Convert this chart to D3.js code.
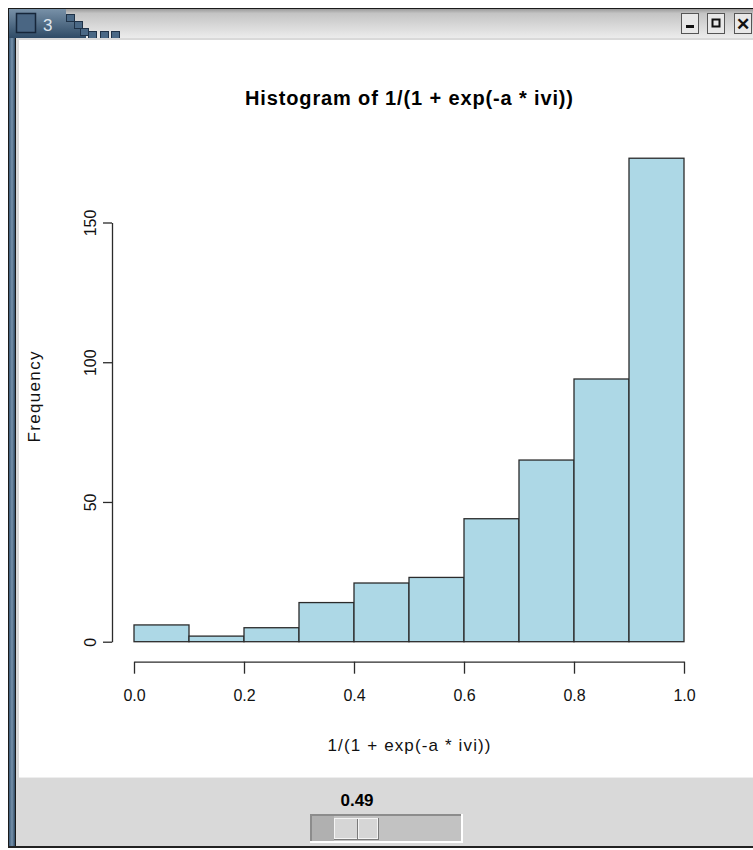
<!DOCTYPE html>
<html>
<head>
<meta charset="utf-8">
<script src="https://cdn.jsdelivr.net/npm/d3@7"></script>
<style>
  html, body { margin: 0; padding: 0; background: #ffffff; }
  svg { display: block; }
  text { font-family: "Liberation Sans", Arial, Helvetica, sans-serif; }
</style>
</head>
<body>
<div id="chart"></div>
<script>
// ---- data ----
const binStarts = [0.0, 0.1, 0.2, 0.3, 0.4, 0.5, 0.6, 0.7, 0.8, 0.9];
const binEnds   = [0.1, 0.2, 0.3, 0.4, 0.5, 0.6, 0.7, 0.8, 0.9, 1.0];
const counts    = [6, 2, 5, 14, 21, 23, 44, 65, 94, 173];
const xTicks    = [0.0, 0.2, 0.4, 0.6, 0.8, 1.0];
const xTickLabels = ["0.0", "0.2", "0.4", "0.6", "0.8", "1.0"];
const yTicks    = [0, 50, 100, 150];
const titleText = "Histogram of 1/(1 + exp(-a * ivi))";
const xLabelText = "1/(1 + exp(-a * ivi))";
const yLabelText = "Frequency";
const sliderValue = "0.49";

const W = 753, H = 850;
const svg = d3.select("#chart").append("svg").attr("width", W).attr("height", H);

// ---- window chrome ----
const defs = svg.append("defs");
const tg = defs.append("linearGradient").attr("id", "titlebar").attr("x1", 0).attr("y1", 0).attr("x2", 0).attr("y2", 1);
tg.append("stop").attr("offset", "0%").attr("stop-color", "#9a9a9a");
tg.append("stop").attr("offset", "15%").attr("stop-color", "#c4c4c4");
tg.append("stop").attr("offset", "100%").attr("stop-color", "#ececec");
const bg = defs.append("linearGradient").attr("id", "bluetab").attr("x1", 0).attr("y1", 0).attr("x2", 0).attr("y2", 1);
bg.append("stop").attr("offset", "0%").attr("stop-color", "#7891a8");
bg.append("stop").attr("offset", "100%").attr("stop-color", "#2f4b66");
const lb = defs.append("linearGradient").attr("id", "leftborder").attr("x1", 0).attr("y1", 0).attr("x2", 1).attr("y2", 0);
lb.append("stop").attr("offset", "0%").attr("stop-color", "#3b5976");
lb.append("stop").attr("offset", "50%").attr("stop-color", "#7792ab");
lb.append("stop").attr("offset", "100%").attr("stop-color", "#2e4963");

// outer frame
svg.append("rect").attr("x", 8).attr("y", 8).attr("width", W - 8).attr("height", 840).attr("fill", "#1a1a1a");
// title bar
svg.append("rect").attr("x", 9).attr("y", 9).attr("width", W - 9).attr("height", 29).attr("fill", "url(#titlebar)");
// blue tab with stepped edge
svg.append("path")
  .attr("d", "M9,9 H66 V14 H72 V21 H78 V28 H86 V38 H9 Z")
  .attr("fill", "url(#bluetab)");
[[66,14],[74,21],[80,28],[88,31],[100,31],[111,31]].forEach(([x,y]) => {
  svg.append("rect").attr("x", x + 0.5).attr("y", y + 0.5).attr("width", 8).attr("height", 7)
    .attr("fill", "#4a6885").attr("stroke", "#1f3247").attr("stroke-width", 1);
});
// icon square and window number
svg.append("rect").attr("x", 16.5).attr("y", 13.5).attr("width", 19).attr("height", 19)
  .attr("fill", "#4a6683").attr("stroke", "#16263a").attr("stroke-width", 1.5);
svg.append("text").attr("x", 43).attr("y", 31).attr("font-size", 17).attr("fill", "#dfe6ee").text("3");
// buttons
const btns = [{x: 681, sym: "min"}, {x: 707, sym: "max"}, {x: 734, sym: "close"}];
btns.forEach(b => {
  svg.append("rect").attr("x", b.x + 0.5).attr("y", 13.5).attr("width", 17).attr("height", 20)
    .attr("fill", "#e8e8e8").attr("stroke", "#555").attr("stroke-width", 1);
  if (b.sym === "min") svg.append("rect").attr("x", b.x + 5).attr("y", 25).attr("width", 8).attr("height", 3).attr("fill", "#111");
  if (b.sym === "max") svg.append("rect").attr("x", b.x + 5.5).attr("y", 19.5).attr("width", 7).attr("height", 7).attr("fill", "none").attr("stroke", "#111").attr("stroke-width", 2);
  if (b.sym === "close") svg.append("text").attr("x", b.x + 9).attr("y", 30).attr("text-anchor", "middle").attr("font-size", 17).attr("font-weight", "bold").attr("fill", "#111").text("✕");
});
// left blue border
svg.append("rect").attr("x", 9).attr("y", 38).attr("width", 6).attr("height", 808).attr("fill", "url(#leftborder)");
// content background
svg.append("rect").attr("x", 16).attr("y", 38).attr("width", W - 16).attr("height", 808).attr("fill", "#d9d9d9");
// plot (white) area
svg.append("rect").attr("x", 19).attr("y", 40).attr("width", W - 19).attr("height", 737).attr("fill", "#ffffff");
svg.append("line").attr("x1", 19).attr("x2", W).attr("y1", 777.5).attr("y2", 777.5).attr("stroke", "#eeeeee");

// ---- chart ----
const x = d3.scaleLinear().domain([0, 1]).range([134, 684]);
const y = d3.scaleLinear().domain([0, 150]).range([641.7, 222.5]);

svg.append("g").selectAll("rect").data(counts).join("rect")
  .attr("x", (d, i) => x(binStarts[i]))
  .attr("y", d => y(d))
  .attr("width", (d, i) => x(binEnds[i]) - x(binStarts[i]))
  .attr("height", d => y(0) - y(d))
  .attr("fill", "#add8e6")
  .attr("stroke", "#2b2b2b")
  .attr("stroke-width", 1.3);

// x axis
const xAxis = d3.axisBottom(x).tickValues(xTicks).tickSize(12).tickSizeOuter(0).tickPadding(16)
  .tickFormat((d, i) => xTickLabels[i]);
const gx = svg.append("g").attr("transform", "translate(0,661.7)").call(xAxis);
gx.select(".domain").attr("stroke", "#2b2b2b").attr("stroke-width", 1.3);
gx.selectAll(".tick line").attr("stroke", "#2b2b2b").attr("stroke-width", 1.3);
gx.selectAll(".tick text").attr("font-size", 16).attr("fill", "#111").attr("font-family", "Liberation Sans, Arial, sans-serif");

// y axis
const yAxis = d3.axisLeft(y).tickValues(yTicks).tickSize(9).tickSizeOuter(0).tickFormat(d3.format("d"));
const gy = svg.append("g").attr("transform", "translate(112,0)").call(yAxis);
gy.select(".domain").attr("stroke", "#2b2b2b").attr("stroke-width", 1.3);
gy.selectAll(".tick line").attr("stroke", "#2b2b2b").attr("stroke-width", 1.3);
gy.selectAll(".tick text")
  .attr("x", null).attr("dy", null)
  .attr("text-anchor", "middle")
  .attr("transform", "translate(-16,0) rotate(-90)")
  .attr("font-size", 16).attr("fill", "#111").attr("font-family", "Liberation Sans, Arial, sans-serif");

// title
svg.append("text").attr("x", 409).attr("y", 105).attr("text-anchor", "middle")
  .attr("font-size", 20).attr("font-weight", "bold").attr("fill", "#000")
  .attr("textLength", 328).attr("lengthAdjust", "spacing")
  .text(titleText);
// x label
svg.append("text").attr("x", 409).attr("y", 751).attr("text-anchor", "middle")
  .attr("font-size", 17).attr("fill", "#111")
  .attr("textLength", 163).attr("lengthAdjust", "spacing")
  .text(xLabelText);
// y label
svg.append("text").attr("transform", "translate(40,397) rotate(-90)").attr("text-anchor", "middle")
  .attr("font-size", 17).attr("fill", "#111")
  .attr("textLength", 91).attr("lengthAdjust", "spacing")
  .text(yLabelText);

// ---- slider panel ----
svg.append("text").attr("x", 357).attr("y", 806).attr("text-anchor", "middle")
  .attr("font-size", 17).attr("font-weight", "bold").attr("fill", "#000").text(sliderValue);
// trough
svg.append("rect").attr("x", 310).attr("y", 814).attr("width", 153).attr("height", 29).attr("fill", "#ffffff");
svg.append("rect").attr("x", 310).attr("y", 814).attr("width", 151).attr("height", 27).attr("fill", "#8c8c8c");
svg.append("rect").attr("x", 312).attr("y", 816).attr("width", 149).attr("height", 25).attr("fill", "#c2c2c2");
svg.append("rect").attr("x", 312).attr("y", 816).attr("width", 22).attr("height", 25).attr("fill", "#b0b0b0");
// thumb
svg.append("rect").attr("x", 334).attr("y", 818).attr("width", 45).attr("height", 22).attr("fill", "#7a7a7a");
svg.append("rect").attr("x", 334).attr("y", 818).attr("width", 44).attr("height", 21).attr("fill", "#f4f4f4");
svg.append("rect").attr("x", 335).attr("y", 819).attr("width", 42).attr("height", 19).attr("fill", "#d6d6d6");
svg.append("line").attr("x1", 357.5).attr("x2", 357.5).attr("y1", 819).attr("y2", 839).attr("stroke", "#7a7a7a");
svg.append("line").attr("x1", 358.5).attr("x2", 358.5).attr("y1", 819).attr("y2", 839).attr("stroke", "#f4f4f4");
// bottom border
svg.append("rect").attr("x", 8).attr("y", 846).attr("width", W - 8).attr("height", 2).attr("fill", "#222");
</script>
</body>
</html>
